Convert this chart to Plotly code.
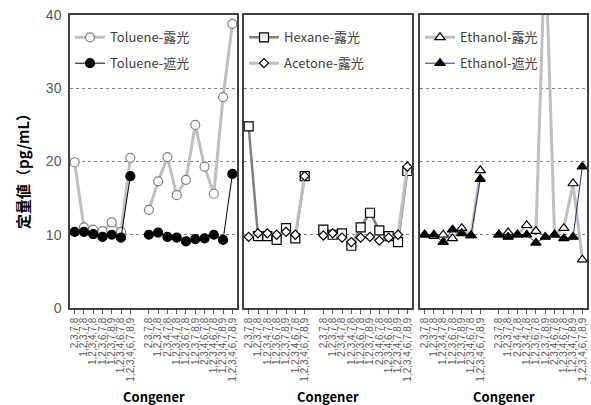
import plotly.graph_objects as go

# categories: 7 PCDD + gap + 10 PCDF
pcdd = ["2,3,7,8", "1,2,3,7,8", "1,2,3,4,7,8", "1,2,3,6,7,8", "1,2,3,7,8,9",
        "1,2,3,4,6,7,8", "1,2,3,4,6,7,8,9"]
pcdf = ["2,3,7,8", "1,2,3,7,8", "2,3,4,7,8", "1,2,3,4,7,8", "1,2,3,6,7,8",
        "1,2,3,7,8,9", "2,3,4,6,7,8", "1,2,3,4,6,7,8", "1,2,3,4,7,8,9", "1,2,3,4,6,7,8,9"]
categories = pcdd + [""] + pcdf

toluene_exposed = [19.9, 11.0, 10.7, 10.5, 11.7, 10.4, 20.5, None,
                   13.4, 17.3, 20.6, 15.4, 17.5, 25.0, 19.3, 15.6, 28.8, 38.8]
toluene_shaded = [10.4, 10.4, 10.1, 9.7, 10.0, 9.6, 18.0, None,
                  10.0, 10.3, 9.7, 9.6, 9.1, 9.4, 9.5, 10.0, 9.3, 18.3]
hexane_exposed = [24.8, 9.8, 9.8, 9.3, 10.9, 9.5, 18.0, None,
                  10.7, 10.0, 10.2, 8.5, 11.0, 13.0, 10.6, 9.8, 9.0, 18.7]
acetone_exposed = [9.7, 10.2, 10.2, 10.0, 10.4, 10.0, 18.0, None,
                   9.9, 10.2, 9.6, 9.0, 9.6, 9.7, 9.2, 9.6, 10.0, 19.3]
ethanol_exposed = [10.0, 9.8, 10.0, 9.5, 10.9, 9.9, 18.8, None,
                   10.0, 10.3, 10.0, 11.3, 10.5, 50.0, 10.0, 10.9, 17.0, 6.6]
ethanol_shaded = [10.0, 10.0, 9.0, 10.7, 10.2, 9.9, 17.6, None,
                  10.0, 9.7, 10.0, 10.0, 8.9, 9.7, 10.0, 9.5, 9.7, 19.3]

xs = list(range(len(categories)))
tickvals = [i for i, c in enumerate(categories) if c]
ticktext = [c for c in categories if c]

JP = "Noto Sans CJK JP"
LAT = "Liberation Sans"
GRAY = "#BFBFBF"

fig = go.Figure()

def add(name, y, ax, legend, mk_symbol, mk_size, mk_fill, mk_line, ln_color, ln_width, group):
    sx = "" if ax == 1 else str(ax)
    fig.add_trace(go.Scatter(
        x=xs, y=y, name=name, mode="lines+markers", connectgaps=False,
        xaxis="x" + sx, yaxis="y" + sx,
        legend=legend, legendgroup=group,
        line=dict(color=ln_color, width=ln_width),
        marker=dict(symbol=mk_symbol, size=mk_size, color=mk_fill,
                    line=dict(color=mk_line, width=1.2)),
    ))

add("Toluene-露光", toluene_exposed, 1, "legend", "circle", 9, "white", "#7F7F7F", GRAY, 3, "a")
add("Toluene-遮光", toluene_shaded, 1, "legend", "circle", 9, "black", "black", "black", 1, "b")
add("Hexane-露光", hexane_exposed, 2, "legend2", "square", 9, "white", "black", "#7F7F7F", 2.5, "c")
add("Acetone-露光", acetone_exposed, 2, "legend2", "diamond", 7, "white", "black", GRAY, 3, "d")
add("Ethanol-露光", ethanol_exposed, 3, "legend3", "triangle-up", 9, "white", "black", GRAY, 3, "e")
add("Ethanol-遮光", ethanol_shaded, 3, "legend3", "triangle-up", 9, "black", "black", "#1F2F7A", 1, "f")

W, H = 591, 405
ml, mr, mt, mb = 70, 4, 15, 97
pw = W - ml - mr
ph = H - mt - mb
def dom(a, b):
    return [(a - ml) / pw, (b - ml) / pw]

domains = [dom(70, 237), dom(244, 412), dom(420, 587)]

xcommon = dict(
    range=[-0.5, len(categories) - 0.5], tickmode="array", tickvals=tickvals, ticktext=ticktext,
    tickangle=-90, tickfont=dict(family=LAT, size=10, color="#595959"),
    ticks="outside", ticklen=4, tickcolor="#595959",
    showline=True, linecolor="#404040", linewidth=1.5, mirror=True,
    showgrid=False, zeroline=False, automargin=False,
)
ycommon = dict(
    range=[0, 40], tickvals=[0, 10, 20, 30, 40],
    showline=True, linecolor="#404040", linewidth=1.5, mirror=True,
    showgrid=True, gridcolor="#808080", griddash="dot", gridwidth=1,
    zeroline=False, automargin=False,
)

layout = dict(
    width=W, height=H, margin=dict(l=ml, r=mr, t=mt, b=mb, autoexpand=False),
    plot_bgcolor="white", paper_bgcolor="white",
    font=dict(family=JP),
    showlegend=True,
)
annotations = []
for i, d in enumerate(domains, start=1):
    sx = "" if i == 1 else str(i)
    layout["xaxis" + sx] = dict(xcommon, domain=d, anchor="y" + sx)
    yd = dict(ycommon, anchor="x" + sx)
    if i == 1:
        yd.update(tickfont=dict(family=LAT, size=14, color="#595959"), ticklabelstandoff=4)
    else:
        yd.update(showticklabels=False)
    layout["yaxis" + sx] = yd
    annotations.append(dict(
        text="<b>Congener</b>", xref="paper", yref="paper",
        x=(d[0] + d[1]) / 2, y=(308 - 396) / ph,
        xanchor="center", yanchor="middle", showarrow=False,
        font=dict(family=JP, size=13, color="black")))

annotations.append(dict(
    text="<b>定量値（pg/mL）</b>", xref="paper", yref="paper",
    x=(22 - ml) / pw, y=(308 - 168) / ph, xanchor="center", yanchor="middle",
    textangle=-90, showarrow=False, font=dict(family=JP, size=15, color="black")))
layout["annotations"] = annotations

leg_font = dict(family=JP, size=13, color="#404040")
for i, d in enumerate(domains, start=1):
    key = "legend" if i == 1 else "legend" + str(i)
    layout[key] = dict(x=d[0] + 0.0, y=0.975, xanchor="left", yanchor="top",
                       bgcolor="rgba(0,0,0,0)", font=leg_font, traceorder="grouped",
                       tracegroupgap=6, itemwidth=30)

fig.update_layout(**layout)
fig.write_html("out.html", post_script="document.body.style.margin='0';",
               config={"displayModeBar": False})
